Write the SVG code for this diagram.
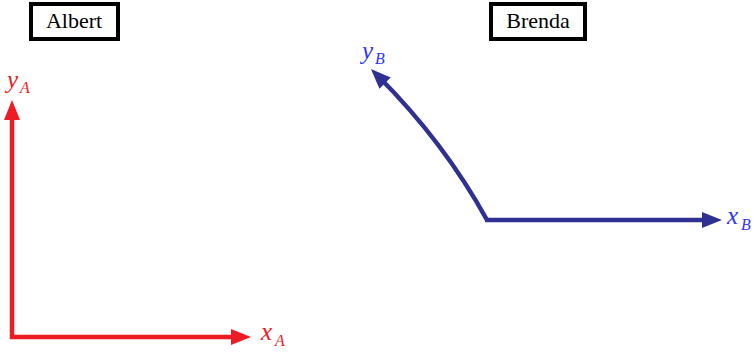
<svg xmlns="http://www.w3.org/2000/svg" width="756" height="354" viewBox="0 0 756 354">
<style>
.box{fill:#fff;stroke:#000;stroke-width:4}
.name{font-family:"Liberation Serif",serif;font-size:22px;fill:#000;text-anchor:middle}
.red{stroke:#ED1C24;stroke-width:4.5;fill:none}
.blue{stroke:#2E3192;stroke-width:4.5;fill:none}
.lbl{font-family:"Liberation Serif",serif;font-style:italic;font-size:25px}
.sub{font-size:16px}
.lr{fill:#ED1C24}
.lb{fill:#3333FF}
</style>
<defs>
<marker id="ar" markerUnits="userSpaceOnUse" markerWidth="20" markerHeight="18" refX="10" refY="9" orient="auto"><path d="M0,1 L20,9 L0,17 Z" fill="#ED1C24"/></marker>
<marker id="ab" markerUnits="userSpaceOnUse" markerWidth="20" markerHeight="18" refX="10" refY="9" orient="auto"><path d="M0,1 L20,9 L0,17 Z" fill="#2E3192"/></marker>
</defs>
<g id="albert"><rect class="box" x="31" y="4" width="87" height="35"/><text class="name" x="74" y="28">Albert</text></g>
<g id="brenda"><rect class="box" x="491" y="4" width="94" height="35"/><text class="name" x="538" y="28">Brenda</text></g>
<g id="connectors">
<path class="red" d="M12,339 L12,110" marker-end="url(#ar)"/>
<path class="red" d="M10,337 L241,337" marker-end="url(#ar)"/>
<path class="blue" d="M485,220 L712,220" marker-end="url(#ab)"/>
<path class="blue" d="M487,220 Q444,142 378,76" marker-end="url(#ab)"/>
</g>
<g id="labels">
<text class="lbl lr" x="7" y="88">y<tspan class="sub" dx="2" dy="5">A</tspan></text>
<text class="lbl lr" x="261" y="340">x<tspan class="sub" dx="3" dy="6">A</tspan></text>
<text class="lbl lb" x="362" y="59">y<tspan class="sub" dx="2" dy="5">B</tspan></text>
<text class="lbl lb" x="727" y="224">x<tspan class="sub" dx="3" dy="6">B</tspan></text>
</g>
</svg>
